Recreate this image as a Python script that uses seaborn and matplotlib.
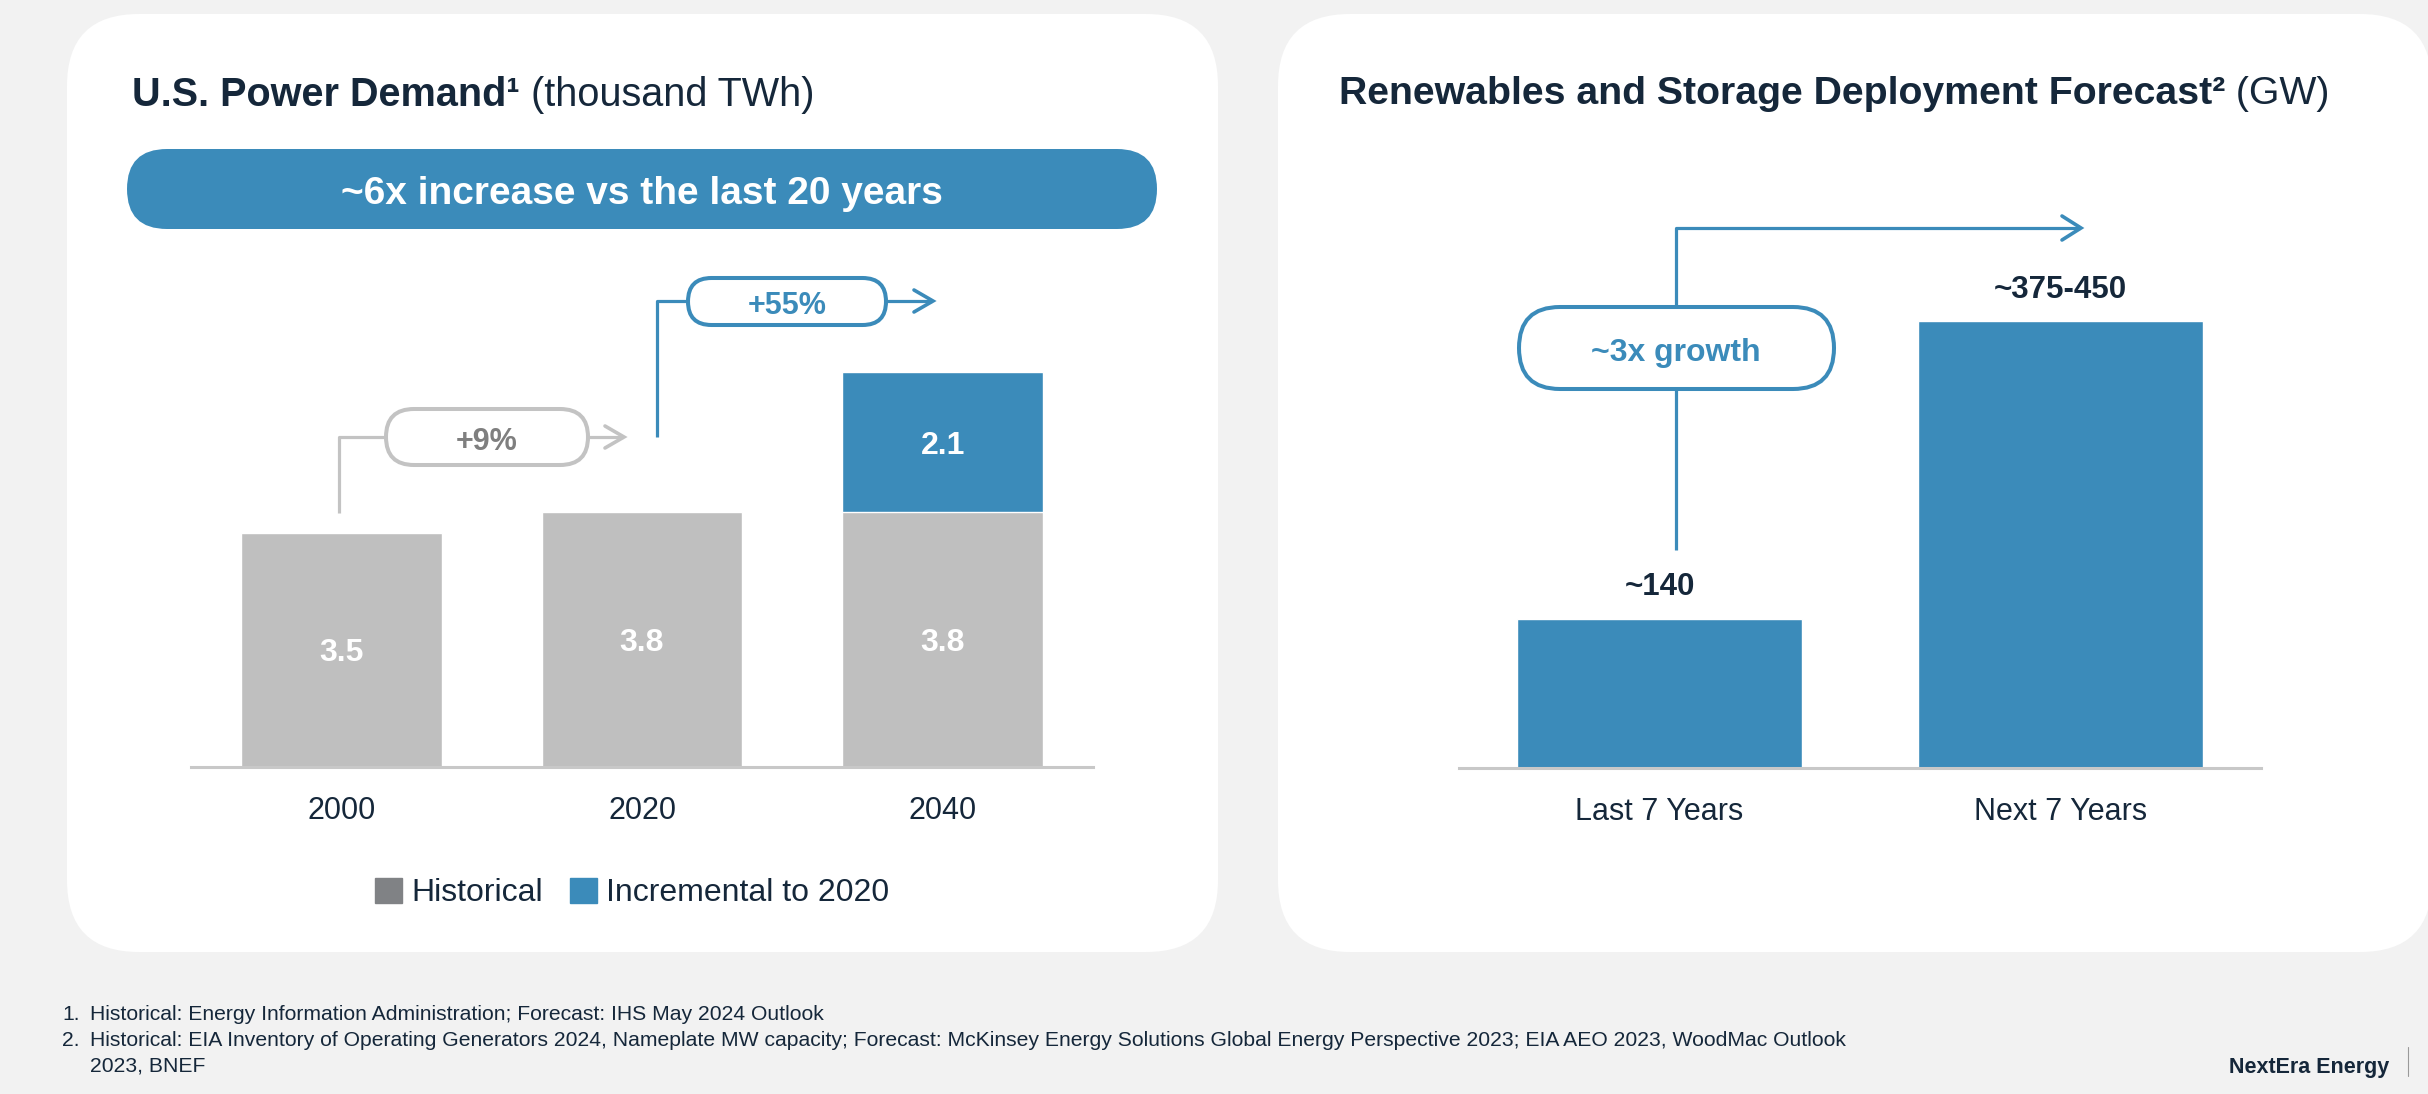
import numpy as np
import pandas as pd
import matplotlib
matplotlib.use("Agg")
import matplotlib.pyplot as plt
import seaborn as sns
from matplotlib.patches import FancyBboxPatch, Patch

# ---------------- data ----------------
years = ["2000", "2020", "2040"]
historical = [3.5, 3.8, 3.8]
incremental = [0.0, 0.0, 2.1]
growth_labels = ["+9%", "+55%"]
banner_text = "~6x increase vs the last 20 years"

periods = ["Last 7 Years", "Next 7 Years"]
deployment_gw = [140, 420]
deployment_labels = ["~140", "~375-450"]
growth_right = "~3x growth"

legend_labels = ["Historical", "Incremental to 2020"]
footnotes = [
    ("1.", "Historical: Energy Information Administration; Forecast: IHS May 2024 Outlook"),
    ("2.", "Historical: EIA Inventory of Operating Generators 2024, Nameplate MW capacity; Forecast: McKinsey Energy Solutions Global Energy Perspective 2023; EIA AEO 2023, WoodMac Outlook"),
    ("", "2023, BNEF"),
]

# ---------------- style ----------------
BLUE = "#3b8bba"
GRAY_BAR = "#bfbfbf"
GRAY_LEG = "#808285"
NAVY = "#15273a"
GRAY_LINE = "#c3c3c3"
GRAY_TEXT = "#7f7f7f"
AXIS = "#c8c8c8"
BG = "#f2f2f2"

sns.set_theme(style="white")
plt.rcParams["font.family"] = ["Liberation Sans", "DejaVu Sans"]

W, H = 2428, 1094
fig = plt.figure(figsize=(W / 100, H / 100), dpi=100, facecolor=BG)

bg = fig.add_axes([0, 0, 1, 1], zorder=0)
bg.set_xlim(0, W)
bg.set_ylim(H, 0)
bg.axis("off")
bg.patch.set_alpha(0)

# white rounded panels
for x0, x1 in [(67, 1218), (1278, 2432)]:
    bg.add_patch(FancyBboxPatch((x0, 14), x1 - x0, 952 - 14,
                                boxstyle="round,pad=0,rounding_size=72",
                                fc="white", ec="none", zorder=1))


def pill(x0, y0, x1, y1, ec, lw=2.9, fc="white"):
    h = y1 - y0
    bg.add_patch(FancyBboxPatch((x0, y0), x1 - x0, h,
                                boxstyle=f"round,pad=0,rounding_size={h / 2}",
                                fc=fc, ec=ec, lw=lw, zorder=4))


def chevron(tx, ty, color, dx=19, dy=11):
    bg.plot([tx - dx, tx, tx - dx], [ty - dy, ty, ty + dy], color=color, lw=2.6,
            solid_joinstyle="miter", solid_capstyle="round", zorder=3)


def line(xs, ys, color, lw=2.3):
    bg.plot(xs, ys, color=color, lw=lw, solid_capstyle="butt", zorder=3)


# ---------------- titles ----------------
t1 = bg.text(132, 106, "U.S. Power Demand\u00b9", fontsize=28.5, fontweight="bold",
             color=NAVY, va="baseline", ha="left")
bg.annotate(" (thousand TWh)", xy=(1, 0), xycoords=t1, fontsize=28.5, color=NAVY,
            va="bottom", ha="left")
t2 = bg.text(1339, 104, "Renewables and Storage Deployment Forecast\u00b2", fontsize=28.3,
             fontweight="bold", color=NAVY, va="baseline", ha="left")
bg.annotate(" (GW)", xy=(1, 0), xycoords=t2, fontsize=28.3, color=NAVY,
            va="bottom", ha="left")

# banner
pill(127, 149, 1157, 229, ec="none", lw=0, fc=BLUE)
bg.text(642, 190, banner_text, fontsize=28, fontweight="bold", color="white",
        ha="center", va="center_baseline", zorder=5)

# ---------------- left chart ----------------
PX_L = 67.0
ax1 = fig.add_axes([191 / W, 1 - 767 / H, (1093 - 191) / W, (767 - 150) / H], zorder=2)
ax1.patch.set_alpha(0)
df1 = pd.DataFrame({"year": years, "historical": historical,
                    "total": np.add(historical, incremental)})
pal = [BLUE if inc > 0 else GRAY_BAR for inc in incremental]
sns.barplot(data=df1, x="year", y="total", hue="year", palette=pal, legend=False,
            width=0.667, saturation=1, ax=ax1)
sns.barplot(data=df1, x="year", y="historical", color=GRAY_BAR,
            width=0.667, saturation=1, ax=ax1)
ax1.set_xlim(-0.5, 2.5)
ax1.set_ylim(0, (767 - 150) / PX_L)
for i, (h, inc) in enumerate(zip(historical, incremental)):
    ax1.text(i, h / 2, f"{h:.1f}", ha="center", va="center_baseline", color="white",
             fontsize=23, fontweight="bold")
    if inc > 0:
        ax1.text(i, h + inc / 2, f"{inc:.1f}", ha="center", va="center_baseline",
                 color="white", fontsize=23, fontweight="bold")

# ---------------- right chart ----------------
PX_R = 1.064
ax2 = fig.add_axes([1459 / W, 1 - 768 / H, (2261 - 1459) / W, (768 - 150) / H], zorder=2)
ax2.patch.set_alpha(0)
sns.barplot(x=periods, y=deployment_gw, color=BLUE, width=0.713, saturation=1, ax=ax2)
ax2.set_xlim(-0.5, 1.5)
ax2.set_ylim(0, (768 - 150) / PX_R)
for i, (v, lab) in enumerate(zip(deployment_gw, deployment_labels)):
    ax2.annotate(lab, xy=(i, v), xytext=(0, 17), textcoords="offset points",
                 ha="center", va="baseline", fontsize=22.5, fontweight="bold", color=NAVY)

for ax in (ax1, ax2):
    ax.set_xlabel("")
    ax.set_ylabel("")
    ax.set_yticks([])
    for s in ("top", "left", "right"):
        ax.spines[s].set_visible(False)
    ax.spines["bottom"].set_color(AXIS)
    ax.spines["bottom"].set_linewidth(2.2)
    ax.tick_params(axis="x", length=0, pad=21, labelsize=22, labelcolor=NAVY)

# legend
handles = [Patch(color=GRAY_LEG, label=legend_labels[0]),
           Patch(color=BLUE, label=legend_labels[1])]
fig.legend(handles=handles, loc="center", bbox_to_anchor=(632 / W, 1 - 893 / H),
           ncol=2, frameon=False, fontsize=23, handlelength=0.85, handleheight=0.85,
           handletextpad=0.28, columnspacing=0.85, labelcolor=NAVY, borderpad=0)

# ---------------- growth annotations ----------------
# +9%
line([339, 339, 386], [513, 437, 437], GRAY_LINE)
pill(386, 409, 588, 465, ec=GRAY_LINE)
bg.text(487, 438, growth_labels[0], fontsize=22, fontweight="bold", color=GRAY_TEXT,
        ha="center", va="center_baseline", zorder=5)
line([588, 623], [437, 437], GRAY_LINE)
chevron(624, 437, GRAY_LINE)

# +55%
line([657, 657, 688], [437, 437 - 136, 301], BLUE)
pill(688, 278, 886, 325, ec=BLUE)
bg.text(787, 302, growth_labels[1], fontsize=22, fontweight="bold", color=BLUE,
        ha="center", va="center_baseline", zorder=5)
line([886, 932], [301, 301], BLUE)
chevron(933, 301, BLUE)

# ~3x growth
line([1676, 1676, 2080], [550, 228, 228], BLUE)
chevron(2081, 228, BLUE, dy=12)
pill(1519, 307, 1834, 389, ec=BLUE)
bg.text(1676, 349, growth_right, fontsize=23, fontweight="bold", color=BLUE,
        ha="center", va="center_baseline", zorder=5)

# ---------------- footnotes ----------------
for k, (num, txt) in enumerate(footnotes):
    y = 1013 + k * 25.5
    if num:
        bg.text(62, y, num, fontsize=15.2, color=NAVY, ha="left", va="center_baseline")
    bg.text(90, y, txt, fontsize=15.2, color=NAVY, ha="left", va="center_baseline")

bg.text(2389, 1065, "NextEra Energy", fontsize=15.5, fontweight="bold", color=NAVY,
        ha="right", va="center_baseline")
bg.plot([2408, 2408], [1047, 1076], color="#9a9a9a", lw=0.8)

fig.savefig("out.png", dpi=100, facecolor=BG)
